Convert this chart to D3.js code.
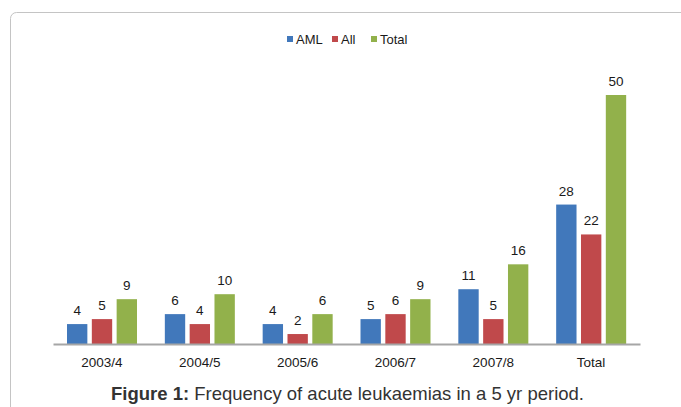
<!DOCTYPE html>
<html>
<head>
<meta charset="utf-8">
<script src="https://cdn.jsdelivr.net/npm/d3@7"></script>
<style>
  body { margin: 0; background: #fff; }
  svg { display: block; font-family: "Liberation Sans", Arial, sans-serif; }
</style>
</head>
<body>
<div id="chart"></div>
<script>
let categories = ['2003/4', '2004/5', '2005/6', '2006/7', '2007/8', 'Total'];
let series = ['AML', 'All', 'Total'];
let aml = [4, 6, 4, 5, 11, 28];
let all = [5, 4, 2, 6, 5, 22];
let total = [9, 10, 6, 9, 16, 50];
let colors = ['#4178bb', '#c0494b', '#92b14b'];

let width = 681, height = 407;
let values = [aml, all, total];

let svg = d3.select('#chart').append('svg')
  .attr('width', width)
  .attr('height', height);

// frame
svg.append('rect')
  .attr('x', 10.5).attr('y', 12.5)
  .attr('width', 700).attr('height', 450)
  .attr('rx', 6)
  .attr('fill', 'none')
  .attr('stroke', '#c4c4c4')
  .attr('stroke-width', 1);

let x0 = d3.scaleBand()
  .domain(categories)
  .range([53, 640]);

let x1 = d3.scaleBand()
  .domain(series)
  .range([14, 84])
  .paddingInner(0.18);

let y = d3.scaleLinear()
  .domain([0, 50])
  .range([344, 95]);

let groups = svg.selectAll('g.group')
  .data(categories)
  .enter().append('g')
  .attr('class', 'group')
  .attr('transform', d => `translate(${x0(d)}, 0)`);

groups.selectAll('rect')
  .data((c, i) => series.map((s, j) => ({ s: s, v: values[j][i], c: colors[j] })))
  .enter().append('rect')
  .attr('x', d => x1(d.s))
  .attr('width', x1.bandwidth())
  .attr('y', d => y(d.v))
  .attr('height', d => y(0) - y(d.v))
  .attr('fill', d => d.c);

groups.selectAll('text.lbl')
  .data((c, i) => series.map((s, j) => ({ s: s, v: values[j][i] })))
  .enter().append('text')
  .attr('class', 'lbl')
  .attr('x', d => x1(d.s) + x1.bandwidth() / 2)
  .attr('y', d => y(d.v) - 9)
  .attr('text-anchor', 'middle')
  .attr('font-size', 13.5)
  .attr('fill', '#1a1a1a')
  .text(d => d.v);

// x axis
let xAxis = d3.axisBottom(x0).tickSize(0).tickPadding(13);
let gx = svg.append('g')
  .attr('transform', `translate(0, ${y(0)})`)
  .call(xAxis);
gx.select('.domain').attr('stroke', '#a6a6a6').attr('stroke-width', 2);
gx.selectAll('text')
  .attr('font-size', 13.5)
  .attr('font-family', '"Liberation Sans", Arial, sans-serif')
  .attr('fill', '#1a1a1a');

// legend
let legendX = [287, 332, 371];
let legend = svg.append('g');
series.forEach((s, i) => {
  legend.append('rect')
    .attr('x', legendX[i]).attr('y', 36)
    .attr('width', 6).attr('height', 6)
    .attr('fill', colors[i]);
  legend.append('text')
    .attr('x', legendX[i] + 9).attr('y', 44)
    .attr('font-size', 13)
    .attr('fill', '#1a1a1a')
    .text(s);
});

// caption
let cap = svg.append('text')
  .attr('x', 347.5).attr('y', 400)
  .attr('text-anchor', 'middle')
  .attr('font-size', 18.5)
  .attr('fill', '#333');
cap.append('tspan').attr('font-weight', 'bold').text('Figure 1:');
cap.append('tspan').text(' Frequency of acute leukaemias in a 5 yr period.');
</script>
</body>
</html>
